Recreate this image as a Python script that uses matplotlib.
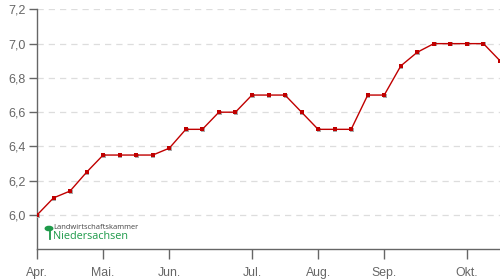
import matplotlib
matplotlib.use("Agg")
import matplotlib.pyplot as plt
import matplotlib.transforms as mtransforms
from matplotlib.ticker import FuncFormatter

# Daten (woechentliche Werte)
werte = [6.0, 6.1, 6.14, 6.25, 6.35, 6.35, 6.35, 6.35, 6.39, 6.5, 6.5, 6.6, 6.6,
         6.7, 6.7, 6.7, 6.6, 6.5, 6.5, 6.5, 6.7, 6.7, 6.87, 6.95, 7.0, 7.0, 7.0, 7.0, 6.9]
monate = ["Apr.", "Mai.", "Jun.", "Jul.", "Aug.", "Sep.", "Okt."]
monat_pos = [0, 4, 8, 13, 17, 21, 26]
y_ticks = [6.0, 6.2, 6.4, 6.6, 6.8, 7.0, 7.2]

x = list(range(len(werte)))

plt.rcParams['font.family'] = ['Liberation Sans', 'DejaVu Sans']

fig = plt.figure(figsize=(5, 2.8), dpi=100)
ax = fig.add_axes([0.074, 0.1096, 0.926, 0.857])

grau = "#666666"
rot = "#c00000"

# Schatten der Punkte
schatten = mtransforms.offset_copy(ax.transData, fig=fig, x=0.7, y=-0.7, units='dots')
ax.plot(x, werte, linestyle="none", marker="s", markersize=2.7, color="#aaaaaa",
        markeredgewidth=0, transform=schatten, zorder=3)
ax.plot(x, werte, color=rot, linewidth=1.0, marker="s", markersize=2.7,
        markeredgewidth=0, zorder=4)

ax.set_xlim(0, 28)
ax.set_ylim(5.8, 7.2)

ax.set_yticks(y_ticks)
ax.yaxis.set_major_formatter(FuncFormatter(lambda v, p: f"{v:.1f}".replace(".", ",")))
ax.set_xticks(monat_pos)
ax.set_xticklabels(monate)

ax.grid(axis="y", color="#dddddd", linestyle=(0, (5, 4)), linewidth=0.9)
ax.set_axisbelow(True)

for s in ["top", "right"]:
    ax.spines[s].set_visible(False)
for s in ["left", "bottom"]:
    ax.spines[s].set_color(grau)
    ax.spines[s].set_linewidth(1.0)

ax.tick_params(axis="y", colors=grau, labelsize=9, length=6, width=1.0, pad=2)
ax.tick_params(axis="x", colors=grau, labelsize=8.8, length=7, width=1.0, pad=6)

# Logo
gruen = "#1e9a4a"
fig.patches.append(plt.Circle((49 / 500, 1 - 228.5 / 280), 0.0075, transform=fig.transFigure,
                              color=gruen, figure=fig))
fig.add_artist(plt.Line2D([50 / 500, 50 / 500], [1 - 228 / 280, 1 - 239 / 280],
                          color=gruen, linewidth=1.3, transform=fig.transFigure))
fig.text(53 / 500, 1 - 227.5 / 280, "Landwirtschaftskammer", fontsize=5.4, color="#444444",
         family=["Open Sans", "DejaVu Sans"], va="center", ha="left")
fig.text(53 / 500, 1 - 236.5 / 280, "Niedersachsen", fontsize=7.8, color=gruen,
         family=["Open Sans", "DejaVu Sans"], va="center", ha="left")

fig.savefig("out.png", dpi=100)
